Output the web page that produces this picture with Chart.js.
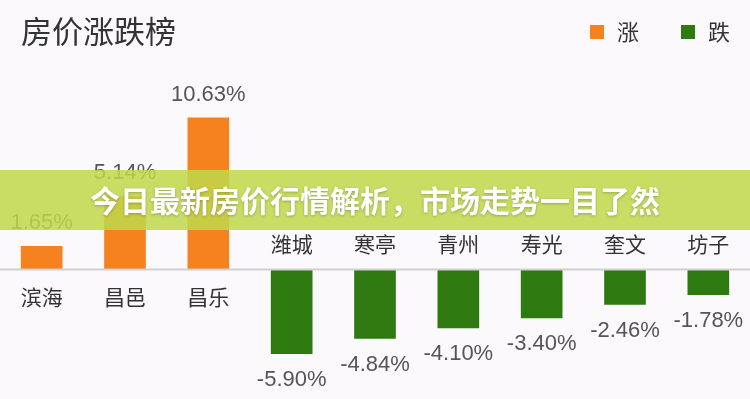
<!DOCTYPE html>
<html>
<head>
<meta charset="utf-8">
<script src="https://cdn.jsdelivr.net/npm/chart.js@4"></script>
<style>
  html, body { margin: 0; padding: 0; background: #fbf9fc; }
  #wrap { width: 750px; height: 399px; }
</style>
</head>
<body>
<div id="wrap"><canvas id="myChart"></canvas></div>
<script>
const title = "房价涨跌榜";
const banner = "今日最新房价行情解析，市场走势一目了然";
const cities = ["滨海", "昌邑", "昌乐", "潍城", "寒亭", "青州", "寿光", "奎文", "坊子"];
const riseValues = [1.65, 5.14, 10.63, null, null, null, null, null, null];
const fallValues = [null, null, null, -5.90, -4.84, -4.10, -3.40, -2.46, -1.78];
const seriesNames = ["涨", "跌"];
const colors = ["#f5821f", "#2e7a10"];

const cjk = '"Noto Sans CJK SC", "Noto Sans", sans-serif';

// text, legend, zero line and the banner
const drawExtras = {
  id: "drawExtras",
  afterDatasetsDraw(chart) {
    const c = chart.ctx;
    const x = chart.scales.x;
    const y = chart.scales.y;
    const zero = y.getPixelForValue(0);
    c.save();

    // zero line
    c.strokeStyle = "#d0d0d0";
    c.lineWidth = 2;
    c.beginPath();
    c.moveTo(0, zero);
    c.lineTo(chart.width, zero);
    c.stroke();

    // title
    c.fillStyle = "#333";
    c.font = "31px " + cjk;
    c.textAlign = "left";
    c.textBaseline = "middle";
    c.fillText(title, 21, 31);

    // legend
    c.font = "22px " + cjk;
    const legendX = [590, 681];
    seriesNames.forEach(function(n, i) {
      c.fillStyle = colors[i];
      c.fillRect(legendX[i], 25, 14, 14);
      c.fillStyle = "#333";
      c.fillText(n, legendX[i] + 27, 32);
    });

    // category + value labels
    c.textAlign = "center";
    cities.forEach(function(city, i) {
      const v = riseValues[i] != null ? riseValues[i] : fallValues[i];
      const px = x.getPixelForValue(i);
      const py = y.getPixelForValue(v);
      c.fillStyle = "#333";
      c.font = "21px " + cjk;
      c.fillText(city, px, v >= 0 ? zero + 27 : zero - 26);
      c.fillStyle = "#555";
      c.font = '22px "Liberation Sans", Arial, sans-serif';
      c.fillText(v.toFixed(2) + "%", px, v >= 0 ? py - 23 : py + 26);
    });

    // banner overlay
    c.fillStyle = "rgba(192, 215, 75, 0.86)";
    c.fillRect(0, 170, chart.width, 60);
    c.font = "bold 30px " + cjk;
    c.shadowColor = "rgba(0,0,0,0.25)";
    c.shadowBlur = 3;
    c.shadowOffsetY = 1;
    c.fillStyle = "#fff";
    c.fillText(banner, chart.width / 2, 201);
    c.restore();
  }
};

const ctx = document.getElementById("myChart");

new Chart(ctx, {
  type: "bar",
  data: {
    labels: cities,
    datasets: [
      { label: seriesNames[0], data: riseValues, backgroundColor: colors[0] },
      { label: seriesNames[1], data: fallValues, backgroundColor: colors[1] }
    ]
  },
  options: {
    responsive: true,
    maintainAspectRatio: false,
    animation: false,
    layout: { padding: { top: 98, bottom: 15, left: 0, right: 0 } },
    datasets: { bar: { categoryPercentage: 1, barPercentage: 0.5 } },
    plugins: {
      legend: { display: false },
      tooltip: { enabled: false }
    },
    scales: {
      x: { display: false, stacked: true },
      y: { display: false, stacked: true, min: -8, max: 12 }
    }
  },
  plugins: [drawExtras]
});
</script>
</body>
</html>
